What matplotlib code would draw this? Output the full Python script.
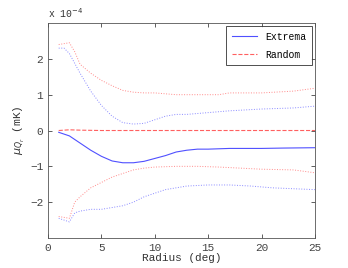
import numpy as np
import matplotlib
matplotlib.use('Agg')
from matplotlib import pyplot as plt

plt.rcParams['font.family'] = ['Liberation Mono', 'DejaVu Sans Mono']

# values in units of 1e-4 mK
r_mean = [1, 2, 3, 4, 5, 6, 7, 8, 9, 10, 11, 12, 13, 14, 15, 17, 20, 22, 25]
ext_mean = [-0.05, -0.15, -0.35, -0.55, -0.72, -0.85, -0.9, -0.9, -0.86, -0.78, -0.7, -0.6, -0.55, -0.52, -0.52, -0.5, -0.5, -0.49, -0.48]

r_eu = [1, 1.5, 2, 3, 4, 5, 6, 7, 8, 9, 10, 11, 12, 13, 15, 17, 20, 23, 25]
ext_up = [2.3, 2.3, 2.15, 1.6, 1.1, 0.7, 0.4, 0.22, 0.18, 0.2, 0.3, 0.4, 0.45, 0.45, 0.5, 0.55, 0.6, 0.63, 0.68]

r_el = [1, 2, 2.5, 3, 4, 5, 6, 7, 8, 9, 10, 11, 12, 13, 15, 17, 19, 21, 25]
ext_lo = [-2.45, -2.55, -2.3, -2.25, -2.2, -2.2, -2.15, -2.1, -2.0, -1.85, -1.75, -1.65, -1.6, -1.55, -1.52, -1.52, -1.55, -1.6, -1.65]

r_rand = [1, 2, 3, 5, 10, 15, 20, 25]
rand_mean = [0.0, 0.02, 0.01, 0.0, 0.0, 0.0, 0.0, 0.0]

r_ru = [1, 2, 2.5, 3, 4, 5, 6, 7, 8, 9, 10, 12, 13, 15, 16, 17, 20, 23, 25]
rand_up = [2.4, 2.45, 2.2, 1.85, 1.6, 1.4, 1.25, 1.12, 1.07, 1.05, 1.05, 1.0, 1.0, 1.0, 1.0, 1.05, 1.05, 1.1, 1.18]

r_rl = [1, 2, 2.5, 3, 4, 5, 6, 7, 8, 9, 10, 12, 14, 16, 18, 20, 23, 25]
rand_lo = [-2.4, -2.45, -2.0, -1.85, -1.6, -1.45, -1.3, -1.2, -1.1, -1.05, -1.02, -1.0, -1.0, -1.02, -1.05, -1.08, -1.1, -1.18]

fig = plt.figure(figsize=(3.48, 2.68), dpi=100)
ax = fig.add_axes([0.138, 0.112, 0.767, 0.802])

blue = '#5050ff'
red = '#ff6060'
ax.plot(r_mean, ext_mean, '-', color=blue, lw=0.8, label='Extrema')
ax.plot(r_rand, rand_mean, '--', color=red, lw=0.8, label='Random')
ax.plot(r_eu, ext_up, ':', color='#8a8aff', lw=0.7)
ax.plot(r_el, ext_lo, ':', color='#8a8aff', lw=0.7)
ax.plot(r_ru, rand_up, ':', color='#ff8a8a', lw=0.7)
ax.plot(r_rl, rand_lo, ':', color='#ff8a8a', lw=0.7)

ax.set_xlim(0, 25)
ax.set_ylim(-3, 3)
ax.set_xticks([0, 5, 10, 15, 20, 25])
ax.set_yticks([-2, -1, 0, 1, 2])
ax.set_yticklabels(['\u22122', '\u22121', '0', '1', '2'])
ax.tick_params(direction='in', length=3, width=0.6, labelsize=8, top=True, right=True, colors='#444444')
for s in ax.spines.values():
    s.set_linewidth(0.6)
    s.set_color('#555555')

ax.set_xlabel('Radius (deg)', fontsize=8, labelpad=0, color='#333333')
ax.set_ylabel(r'$\mu_{Q_r}$ (mK)', fontsize=8, labelpad=2, color='#333333')
ax.text(0.0, 1.015, r'x 10$^{-4}$', transform=ax.transAxes, fontsize=7, color='#333333', va='bottom')

leg = ax.legend(loc='upper right', fontsize=7, frameon=True, fancybox=False,
                handlelength=2.6, borderpad=0.6, labelspacing=0.8, borderaxespad=0.3)
leg.get_frame().set_edgecolor('#222222')
leg.get_frame().set_linewidth(0.7)

fig.savefig('out.png', dpi=100)
